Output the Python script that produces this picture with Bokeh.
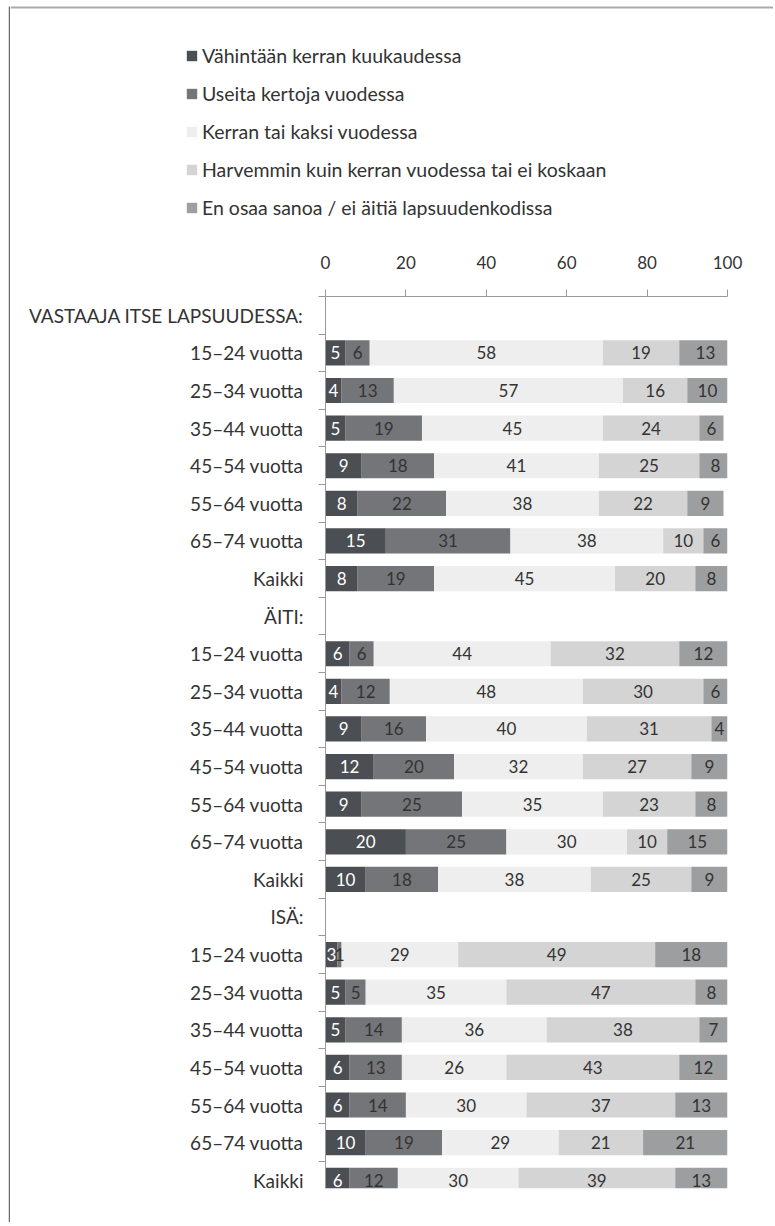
from bokeh.plotting import figure
from bokeh.models import ColumnDataSource, Range1d, FixedTicker, Legend, LegendItem
from bokeh.layouts import column, row
from bokeh.embed import file_html
from bokeh.resources import INLINE
from bokeh.core.properties import value

# ---------------- data ----------------
groups = ["VASTAAJA ITSE LAPSUUDESSA:", "ÄITI:", "ISÄ:"]
ages = ["15–24 vuotta", "25–34 vuotta", "35–44 vuotta", "45–54 vuotta",
        "55–64 vuotta", "65–74 vuotta", "Kaikki"]
series_names = ["Vähintään kerran kuukaudessa", "Useita kertoja vuodessa",
                "Kerran tai kaksi vuodessa",
                "Harvemmin kuin kerran vuodessa tai ei koskaan",
                "En osaa sanoa / ei äitiä lapsuudenkodissa"]
monthly = [5, 4, 5, 9, 8, 15, 8, 6, 4, 9, 12, 9, 20, 10, 3, 5, 5, 6, 6, 10, 6]
several = [6, 13, 19, 18, 22, 31, 19, 6, 12, 16, 20, 25, 25, 18, 1, 5, 14, 13, 14, 19, 12]
once_twice = [58, 57, 45, 41, 38, 38, 45, 44, 48, 40, 32, 35, 30, 38, 29, 35, 36, 26, 30, 29, 30]
rarely = [19, 16, 24, 25, 22, 10, 20, 32, 30, 31, 27, 23, 10, 25, 49, 47, 38, 43, 37, 21, 39]
unknown = [13, 10, 6, 8, 9, 6, 8, 12, 6, 4, 9, 8, 15, 9, 18, 8, 7, 12, 13, 21, 13]
x_ticks = [0, 20, 40, 60, 80, 100]

colors = ["#4b4e52", "#737578", "#edeeed", "#d4d4d4", "#9c9e9f"]
label_colors = ["#ffffff", "#333333", "#333333", "#333333", "#333333"]
FONT = "Lato"
FS_TXT = "19px"
FS_NUM = "17px"
FS_LEG = "19.5px"
TXT = "#333333"

# ---------------- row positions ----------------
row_labels = {}
pos = []
for g, gname in enumerate(groups):
    base = g * (len(ages) + 1)
    row_labels[base] = gname
    for k, a in enumerate(ages):
        row_labels[base + 1 + k] = a
        pos.append(base + 1 + k)
n_rows = len(groups) * (len(ages) + 1)

series = [monthly, several, once_twice, rarely, unknown]
keys = ["s%d" % i for i in range(5)]
src = ColumnDataSource(dict(pos=pos, **{k: v for k, v in zip(keys, series)}))

# ---------------- legend figure (also carries the top edge line) ----------------
LW, LH = 763, 238
leg = figure(width=LW, height=LH, x_range=Range1d(0, LW), y_range=Range1d(0, LH),
             x_axis_location=None, y_axis_location=None,
             toolbar_location=None, output_backend="svg", min_border=0,
             outline_line_color=None)
leg.grid.visible = False
leg.quad(left=[0], right=[LW], bottom=[LH - 8], top=[LH - 6],
         fill_color="#aaaaaa", line_color=None)
items = []
for name, c in zip(series_names, colors):
    r = leg.hbar(y=[-50], right=[-50], left=[-60], height=1, fill_color=c,
                 line_color=None)
    items.append(LegendItem(label=name, renderers=[r]))
legend = Legend(items=items, location=(175, 18), orientation="vertical",
                glyph_width=13, glyph_height=13, label_standoff=4, spacing=12,
                padding=0, margin=0, border_line_color=None,
                background_fill_alpha=0, label_height=26,
                label_text_font=FONT, label_text_font_size=FS_LEG,
                label_text_color=TXT)
leg.add_layout(legend)

# ---------------- chart figure ----------------
p = figure(width=763, height=984, x_range=Range1d(0, 100),
           y_range=Range1d(23.22, -0.5), x_axis_location="above",
           toolbar_location=None, output_backend="svg",
           min_border_left=315, min_border_right=46, min_border_top=58,
           min_border_bottom=34, outline_line_color=None)
p.grid.visible = False

p.hbar_stack(keys, y="pos", height=0.67, color=colors, line_color=None,
             source=src)

start = [0] * len(pos)
for i, vals in enumerate(series):
    xc = [s + v / 2 for s, v in zip(start, vals)]
    p.text(x=xc, y=pos, text=[str(v) for v in vals], text_align="center",
           text_baseline="middle", text_font=value(FONT),
           text_font_size=FS_NUM, text_color=label_colors[i])
    start = [s + v for s, v in zip(start, vals)]

xa = p.xaxis[0]
xa.ticker = FixedTicker(ticks=x_ticks)
xa.major_tick_out = 7
xa.major_tick_in = 0
xa.minor_tick_line_color = None
xa.axis_line_color = "#999999"
xa.major_tick_line_color = "#999999"
xa.major_label_standoff = 21
xa.major_label_text_font = FONT
xa.major_label_text_font_size = FS_NUM
xa.major_label_text_color = TXT

ya = p.yaxis[0]
ya.ticker = FixedTicker(ticks=list(range(n_rows)),
                        minor_ticks=[i - 0.5 for i in range(n_rows + 1)])
ya.major_tick_out = 0
ya.major_tick_in = 0
ya.major_tick_line_color = None
ya.minor_tick_out = 7
ya.minor_tick_in = 0
ya.minor_tick_line_color = "#999999"
ya.axis_line_color = "#999999"
ya.major_label_overrides = row_labels
ya.major_label_standoff = 15
ya.major_label_text_font = FONT
ya.major_label_text_font_size = FS_TXT
ya.major_label_text_color = TXT

# ---------------- left edge line ----------------
EH = LH + 984
left_line = figure(width=2, height=EH, x_axis_location=None,
                   y_axis_location=None, toolbar_location=None,
                   output_backend="svg", min_border=0,
                   outline_line_color=None, x_range=Range1d(0, 2),
                   y_range=Range1d(0, EH))
left_line.grid.visible = False
left_line.quad(left=[0], right=[2], bottom=[0], top=[EH - 6],
               fill_color="#6b6b6b", line_color=None)

content = column(row(leg), p, spacing=0)
layout = row(left_line, content, spacing=0, margin=(0, 0, 0, 8))

open("out.html", "w").write(file_html(layout, INLINE))
